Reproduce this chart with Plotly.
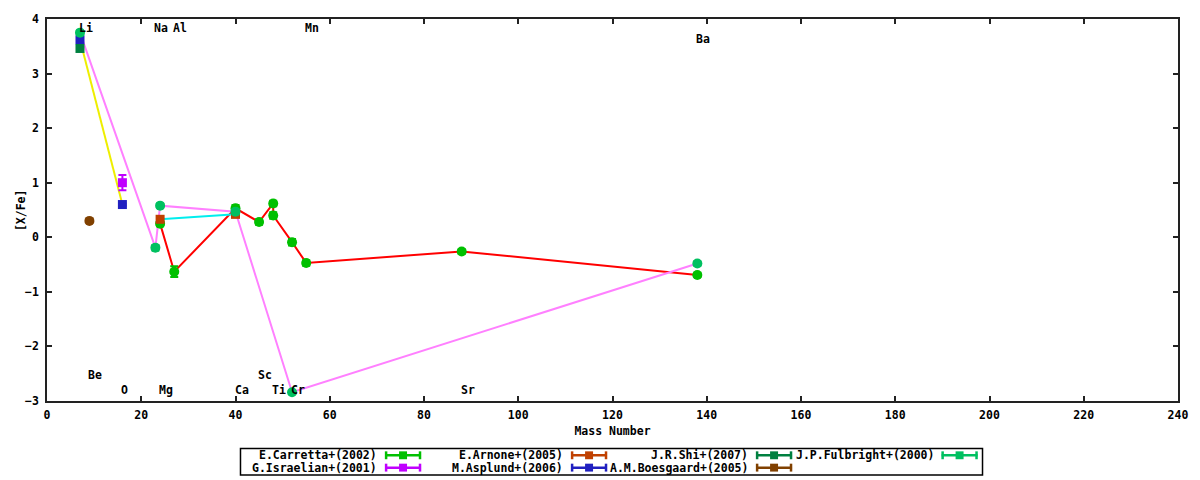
import plotly.graph_objects as go

# abundance data
carretta_x = [24, 27, 40, 45, 48, 48, 52, 55, 88, 138]
carretta_y = [0.25, -0.63, 0.53, 0.28, 0.62, 0.40, -0.09, -0.47, -0.26, -0.69]
carretta_err = [0.05, 0.10, 0.06, 0.05, 0.05, 0.06, 0.06, 0.05, 0.04, 0.04]

israelian_x = [16]
israelian_y = [1.0]
israelian_err = [0.14]

arnone_x = [24, 40]
arnone_y = [0.33, 0.42]
arnone_err = [0.03, 0.03]

asplund_x = [7, 16]
asplund_y = [3.62, 0.60]
asplund_err = [0.02, 0.02]

shi_x = [7]
shi_y = [3.46]
shi_err = [0.02]

boesgaard_x = [9]
boesgaard_y = [0.30]
boesgaard_err = [0.03]

fulbright_x = [7, 23, 24, 40, 52, 138]
fulbright_y = [3.75, -0.19, 0.58, 0.47, -2.84, -0.48]
fulbright_err = [0.04, 0.05, 0.04, 0.04, 0.03, 0.04]

# element labels
label_names = ["Li", "Na", "Al", "Mn", "Ba", "Be", "Sc", "O", "Mg", "Ca", "Ti", "Cr", "Sr"]
label_x = [7, 23, 27, 55, 138, 9, 45, 16, 24, 40, 48, 52, 88]
label_y = [3.83, 3.83, 3.83, 3.83, 3.63, -2.53, -2.53, -2.80, -2.80, -2.80, -2.80, -2.80, -2.80]

FONT = "DejaVu Sans Mono"
TXT = dict(family=FONT, size=11.5, color="black", weight="bold")
W, H = 1200, 480
L, R, T, B = 47, 19, 14, 79

# (name, x, y, err, marker colour, symbol, line colour or None)
series = [
    ("E.Carretta+(2002)", carretta_x, carretta_y, carretta_err, "#00c000", "circle", "#ff0000"),
    ("G.Israelian+(2001)", israelian_x, israelian_y, israelian_err, "#c000ff", "square", None),
    ("E.Arnone+(2005)", arnone_x, arnone_y, arnone_err, "#c04000", "square", "#00eeee"),
    ("M.Asplund+(2006)", asplund_x, asplund_y, asplund_err, "#2020c0", "square", "#eeee00"),
    ("J.R.Shi+(2007)", shi_x, shi_y, shi_err, "#008040", "square", None),
    ("A.M.Boesgaard+(2005)", boesgaard_x, boesgaard_y, boesgaard_err, "#804000", "circle", None),
    ("J.P.Fulbright+(2000)", fulbright_x, fulbright_y, fulbright_err, "#00c060", "circle", "#ff80ff"),
]

fig = go.Figure()

# connecting lines go underneath the points
for name, xs, ys, err, col, sym, lcol in series:
    if lcol:
        fig.add_trace(go.Scatter(x=xs, y=ys, mode="lines", line=dict(color=lcol, width=2),
                                 showlegend=False, hoverinfo="skip"))

for name, xs, ys, err, col, sym, lcol in series:
    fig.add_trace(go.Scatter(
        x=xs, y=ys, mode="markers", name=name, showlegend=False,
        marker=dict(color=col, symbol=sym, size=10 if sym == "circle" else 9, line=dict(width=0)),
        error_y=dict(type="data", array=err, color=col, thickness=2, width=4),
    ))

for nm, lx, ly in zip(label_names, label_x, label_y):
    fig.add_annotation(x=lx, y=ly, text=nm, showarrow=False, xanchor="left", yanchor="middle",
                       xshift=-3, font=TXT)


def px(x):
    return (x - L) / (W - L - R)


def py(y):
    return (H - B - y) / (H - T - B)


# gnuplot style key: text, then an errorbar sample
fig.add_shape(type="rect", xref="paper", yref="paper", x0=px(241), x1=px(985), y0=py(449), y1=py(476),
              line=dict(color="black", width=1.5))
rows = [456, 468.5]
text_right = [380, 566.5, 752, 938]
for i, (name, xs, ys, err, col, sym, lcol) in enumerate(series):
    c, r = i // 2, i % 2
    yy = rows[r]
    fig.add_annotation(xref="paper", yref="paper", x=px(text_right[c]), y=py(yy), text=name,
                       showarrow=False, xanchor="right", yanchor="middle", font=TXT)
    s0 = text_right[c] + 6
    s1 = s0 + 36
    fig.add_shape(type="line", xref="paper", yref="paper", x0=px(s0), x1=px(s1), y0=py(yy), y1=py(yy),
                  line=dict(color=col, width=2.5))
    for sx in (s0 + 1, s1 - 1):
        fig.add_shape(type="line", xref="paper", yref="paper", x0=px(sx), x1=px(sx),
                      y0=py(yy - 4), y1=py(yy + 4), line=dict(color=col, width=2.5))
    mx = (s0 + s1) / 2
    fig.add_shape(type="rect", xref="paper", yref="paper", x0=px(mx - 4), x1=px(mx + 4),
                  y0=py(yy - 4), y1=py(yy + 4), line=dict(width=0), fillcolor=col)

fig.add_annotation(xref="paper", yref="paper", x=px(12), y=0.5, text="[X/Fe]", textangle=-90,
                   showarrow=False, font=TXT)

axis_common = dict(showgrid=False, zeroline=False, showline=True, linecolor="#222", linewidth=1.5,
                   mirror="ticks", ticks="inside", ticklen=5, tickcolor="#222", tickwidth=1.5,
                   tickfont=TXT)

fig.update_xaxes(range=[0, 240], tickvals=list(range(0, 241, 20)), ticklabelstandoff=2,
                 title=dict(text="Mass Number", font=TXT, standoff=6),
                 **axis_common)
fig.update_yaxes(range=[-3, 4], tickvals=list(range(-3, 5)), ticklabelstandoff=4, **axis_common)

fig.update_layout(width=W, height=H, margin=dict(l=L, r=R, t=T, b=B),
                  plot_bgcolor="white", paper_bgcolor="white", font=TXT)

# the page's default body margin would push the figure off the window
fig.write_html("out.html", config={"displayModeBar": False},
               post_script="document.body.style.margin='0px';")
